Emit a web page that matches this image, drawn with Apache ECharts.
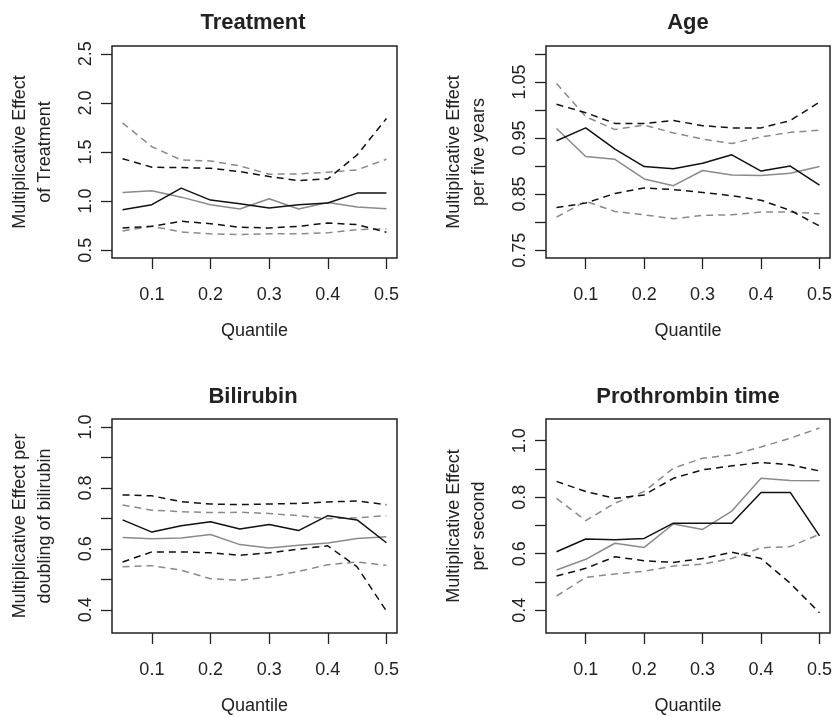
<!DOCTYPE html>
<html>
<head>
<meta charset="utf-8">
<script src="https://cdn.jsdelivr.net/npm/echarts@6/dist/echarts.min.js"></script>
<style>
html,body{margin:0;padding:0;background:#fff;}
#chart{width:835px;height:717px;}
</style>
</head>
<body>
<div id="chart"></div>
<script>
// ---------- data ----------
const quantiles = [0.05, 0.10, 0.15, 0.20, 0.25, 0.30, 0.35, 0.40, 0.45, 0.50];
const xTicks = [0.1, 0.2, 0.3, 0.4, 0.5];

// Treatment
const treatA    = [0.912, 0.963, 1.132, 1.010, 0.973, 0.929, 0.963, 0.980, 1.081, 1.081];
const treatAHi  = [1.432, 1.345, 1.341, 1.334, 1.300, 1.250, 1.209, 1.226, 1.470, 1.841];
const treatALo  = [0.726, 0.743, 0.794, 0.770, 0.733, 0.726, 0.743, 0.777, 0.760, 0.682];
const treatB    = [1.088, 1.105, 1.040, 0.963, 0.919, 1.024, 0.919, 0.986, 0.939, 0.922];
const treatBHi  = [1.797, 1.554, 1.419, 1.409, 1.358, 1.274, 1.277, 1.294, 1.318, 1.426];
const treatBLo  = [0.696, 0.743, 0.686, 0.666, 0.659, 0.666, 0.666, 0.676, 0.709, 0.716];
const treatTicks = [0.5, 1.0, 1.5, 2.0, 2.5];
const treatLabels = [0.5, 1.0, 1.5, 2.0, 2.5];

// Age
const ageA   = [0.945, 0.968, 0.930, 0.899, 0.895, 0.905, 0.920, 0.891, 0.900, 0.866];
const ageAHi = [1.010, 0.995, 0.976, 0.976, 0.981, 0.972, 0.968, 0.968, 0.981, 1.014];
const ageALo = [0.826, 0.834, 0.851, 0.861, 0.858, 0.853, 0.847, 0.839, 0.821, 0.793];
const ageB   = [0.967, 0.917, 0.912, 0.877, 0.865, 0.892, 0.884, 0.883, 0.887, 0.899];
const ageBHi = [1.047, 0.988, 0.965, 0.973, 0.959, 0.948, 0.940, 0.952, 0.960, 0.964];
const ageBLo = [0.809, 0.837, 0.819, 0.813, 0.806, 0.812, 0.813, 0.818, 0.818, 0.815];
const ageTicks = [0.75, 0.80, 0.85, 0.90, 0.95, 1.00, 1.05, 1.10];
const ageLabels = [0.75, 0.85, 0.95, 1.05];

// Bilirubin
const biliA   = [0.695, 0.655, 0.676, 0.689, 0.665, 0.680, 0.660, 0.709, 0.695, 0.620];
const biliAHi = [0.777, 0.774, 0.755, 0.747, 0.745, 0.747, 0.749, 0.754, 0.757, 0.745];
const biliALo = [0.557, 0.590, 0.590, 0.587, 0.579, 0.587, 0.599, 0.610, 0.541, 0.396];
const biliB   = [0.637, 0.633, 0.636, 0.647, 0.614, 0.603, 0.612, 0.619, 0.634, 0.640];
const biliBHi = [0.744, 0.727, 0.722, 0.719, 0.720, 0.716, 0.709, 0.699, 0.702, 0.709];
const biliBLo = [0.541, 0.545, 0.530, 0.502, 0.497, 0.508, 0.526, 0.548, 0.557, 0.546];
const biliTicks = [0.4, 0.5, 0.6, 0.7, 0.8, 0.9, 1.0];
const biliLabels = [0.4, 0.6, 0.8, 1.0];

// Prothrombin time
const protA   = [0.607, 0.652, 0.649, 0.654, 0.708, 0.708, 0.708, 0.817, 0.817, 0.663];
const protAHi = [0.856, 0.820, 0.796, 0.808, 0.867, 0.897, 0.911, 0.923, 0.915, 0.893];
const protALo = [0.521, 0.548, 0.589, 0.575, 0.569, 0.583, 0.605, 0.583, 0.495, 0.391];
const protB   = [0.542, 0.580, 0.637, 0.622, 0.705, 0.686, 0.751, 0.867, 0.859, 0.858];
const protBHi = [0.796, 0.717, 0.779, 0.820, 0.903, 0.938, 0.950, 0.978, 1.009, 1.045];
const protBLo = [0.450, 0.516, 0.528, 0.538, 0.556, 0.563, 0.583, 0.621, 0.625, 0.669];
const protTicks = [0.4, 0.5, 0.6, 0.7, 0.8, 0.9, 1.0];
const protLabels = [0.4, 0.6, 0.8, 1.0];

// ---------- layout ----------
const FONT = '"Liberation Sans", Arial, Helvetica, sans-serif';
const TXT = '#222';
const BLACK = '#111';
const GRAY = '#8a8a8a';

const panels = [
  { title: 'Treatment', yName: 'Multiplicative Effect\nof Treatment',
    grid: { left: 112, top: 46, width: 285, height: 212 }, yMin: 0.42, yMax: 2.58, dec: 1,
    ticks: treatTicks, labels: treatLabels,
    A: treatA, AHi: treatAHi, ALo: treatALo, B: treatB, BHi: treatBHi, BLo: treatBLo, titleX: 248, titleY: 18 },
  { title: 'Age', yName: 'Multiplicative Effect\nper five years',
    grid: { left: 546, top: 46, width: 286, height: 212 }, yMin: 0.736, yMax: 1.114, dec: 2,
    ticks: ageTicks, labels: ageLabels,
    A: ageA, AHi: ageAHi, ALo: ageALo, B: ageB, BHi: ageBHi, BLo: ageBLo, titleX: 683, titleY: 18 },
  { title: 'Bilirubin', yName: 'Multiplicative Effect per\ndoubling of bilirubin',
    grid: { left: 112, top: 419, width: 285, height: 214 }, yMin: 0.324, yMax: 1.026, dec: 1,
    ticks: biliTicks, labels: biliLabels,
    A: biliA, AHi: biliAHi, ALo: biliALo, B: biliB, BHi: biliBHi, BLo: biliBLo, titleX: 248, titleY: 392 },
  { title: 'Prothrombin time', yName: 'Multiplicative Effect\nper second',
    grid: { left: 546, top: 419, width: 286, height: 214 }, yMin: 0.319, yMax: 1.077, dec: 1,
    ticks: protTicks, labels: protLabels,
    A: protA, AHi: protAHi, ALo: protALo, B: protB, BHi: protBHi, BLo: protBLo, titleX: 683, titleY: 392 }
];

const pairs = arr => quantiles.map((q, i) => [q, arr[i]]);

const option = {
  backgroundColor: '#fff',
  animation: false,
  title: [], grid: [], xAxis: [], yAxis: [], series: []
};

panels.forEach((p, k) => {
  option.title.push({
    text: p.title, left: p.titleX, top: p.titleY, textAlign: 'center', textVerticalAlign: 'middle',
    textStyle: { fontFamily: FONT, fontSize: 22, fontWeight: 'bold', color: TXT }
  });
  option.grid.push(Object.assign({ show: true, borderColor: '#222', borderWidth: 1.5, backgroundColor: 'transparent', containLabel: false }, p.grid));
  option.xAxis.push({
    type: 'value', gridIndex: k, min: 0.032, max: 0.518,
    name: 'Quantile', nameLocation: 'middle', nameGap: 64,
    nameTextStyle: { fontFamily: FONT, fontSize: 18, color: TXT },
    axisLine: { show: false }, splitLine: { show: false },
    axisTick: { show: true, inside: false, length: 11, customValues: xTicks, lineStyle: { color: '#222', width: 1.3 } },
    axisLabel: { customValues: xTicks, margin: 28, fontFamily: FONT, fontSize: 18, color: TXT,
      formatter: v => v.toFixed(1) }
  });
  option.yAxis.push({
    type: 'value', gridIndex: k, min: p.yMin, max: p.yMax,
    name: p.yName, nameLocation: 'middle', nameGap: 54, nameRotate: 90,
    nameTextStyle: { fontFamily: FONT, fontSize: 18, color: TXT, lineHeight: 25, align: 'center' },
    axisLine: { show: false }, splitLine: { show: false },
    axisTick: { show: true, inside: false, length: 11, customValues: p.ticks, lineStyle: { color: '#222', width: 1.3 } },
    axisLabel: { customValues: p.labels, rotate: 90, margin: 17, fontFamily: FONT, fontSize: 18, color: TXT,
      formatter: v => v.toFixed(p.dec) }
  });
  const mk = (name, arr, color, dashed) => ({
    name, type: 'line', xAxisIndex: k, yAxisIndex: k, data: pairs(arr),
    showSymbol: false, symbol: 'none', silent: true,
    lineStyle: { color, width: 1.5, type: dashed ? [7, 5] : 'solid' }
  });
  option.series.push(
    mk(p.title + ' B upper', p.BHi, GRAY, true),
    mk(p.title + ' B lower', p.BLo, GRAY, true),
    mk(p.title + ' B', p.B, GRAY, false),
    mk(p.title + ' A upper', p.AHi, BLACK, true),
    mk(p.title + ' A lower', p.ALo, BLACK, true),
    mk(p.title + ' A', p.A, BLACK, false)
  );
});

const chart = echarts.init(document.getElementById('chart'), null, { renderer: 'canvas' });
chart.setOption(option);
</script>
</body>
</html>
